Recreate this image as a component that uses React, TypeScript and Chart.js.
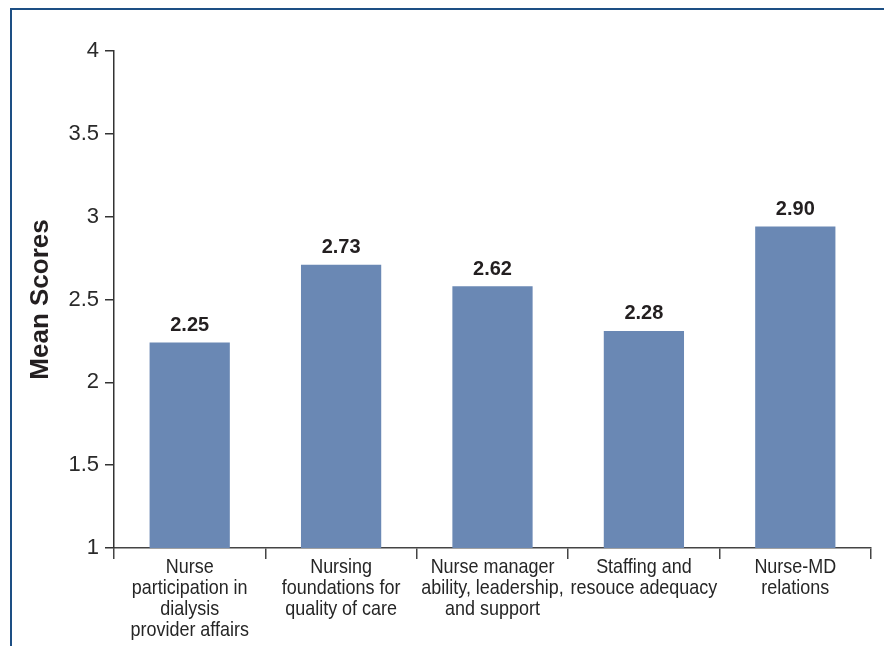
import React, { useEffect, useRef } from "react";
import { Chart, registerables } from "chart.js";

Chart.register(...registerables);

const categories: string[][] = [
  ["Nurse", "participation in", "dialysis", "provider affairs"],
  ["Nursing", "foundations for", "quality of care"],
  ["Nurse manager", "ability, leadership,", "and support"],
  ["Staffing and", "resouce adequacy"],
  ["Nurse-MD", "relations"],
];
const meanScores: number[] = [2.24, 2.71, 2.58, 2.31, 2.94];
const scoreLabels: string[] = ["2.25", "2.73", "2.62", "2.28", "2.90"];
const yTicks: number[] = [1, 1.5, 2, 2.5, 3, 3.5, 4];

const FONT = "'Liberation Sans', Arial, sans-serif";

const valueLabelPlugin = {
  id: "valueLabels",
  afterDatasetsDraw(chart: any) {
    const ctx = chart.ctx;
    const meta = chart.getDatasetMeta(0);
    ctx.save();
    ctx.font = `bold 20px ${FONT}`;
    ctx.fillStyle = "#231f20";
    ctx.textAlign = "center";
    ctx.textBaseline = "middle";
    meta.data.forEach((bar: any, i: number) => {
      ctx.fillText(scoreLabels[i], bar.x, bar.y - 17);
    });
    ctx.restore();
  },
};

// Narrow (condensed) category labels drawn at the x scale's tick positions
const narrowLabelPlugin = {
  id: "narrowLabels",
  afterDraw(chart: any) {
    const ctx = chart.ctx;
    const xs = chart.scales.x;
    const labels = chart.data.labels as string[][];
    ctx.save();
    ctx.font = `21px ${FONT}`;
    ctx.fillStyle = "#262626";
    ctx.textAlign = "center";
    ctx.textBaseline = "middle";
    labels.forEach((lines, i) => {
      const x = xs.getPixelForTick(i);
      lines.forEach((line, j) => {
        const y = xs.top + 19 + j * 21;
        ctx.save();
        ctx.translate(x, y);
        ctx.scale(0.855, 1);
        ctx.fillText(line, 0, 0);
        ctx.restore();
      });
    });
    ctx.restore();
  },
};

export default function App() {
  const ref = useRef<HTMLCanvasElement>(null);
  useEffect(() => {
    if (!ref.current) return;
    const chart = new Chart(ref.current, {
      type: "bar",
      data: {
        labels: categories,
        datasets: [
          {
            data: meanScores,
            backgroundColor: "#6a88b4",
            barPercentage: 0.53,
            categoryPercentage: 1,
          },
        ],
      },
      plugins: [valueLabelPlugin, narrowLabelPlugin],
      options: {
        responsive: false,
        animation: false,
        layout: { padding: { top: 43, right: 13, left: 0, bottom: 0 } },
        plugins: { legend: { display: false }, tooltip: { enabled: false } },
        scales: {
          x: {
            afterFit(scale: any) {
              scale.height = 98;
            },
            grid: {
              offset: true,
              drawOnChartArea: false,
              tickLength: 11,
              color: "#444",
              lineWidth: 1.5,
            },
            border: { color: "#444", width: 1.5 },
            ticks: {
              display: false,
              maxRotation: 0,
              autoSkip: false,
            },
          },
          y: {
            min: 1,
            max: 4,
            afterFit(scale: any) {
              scale.width = 106;
            },
            afterBuildTicks(scale: any) {
              scale.ticks = yTicks.map((v) => ({ value: v }));
            },
            grid: {
              drawOnChartArea: false,
              tickLength: 9,
              color: "#333",
              lineWidth: 1.5,
            },
            border: { color: "#333", width: 1.5 },
            ticks: {
              padding: 6,
              color: "#2a2a2a",
              font: { family: FONT, size: 22 },
              callback: (v: any) => String(v),
            },
            title: {
              display: true,
              text: "Mean Scores",
              color: "#231f20",
              padding: { top: 17, bottom: 0 },
              font: { family: FONT, size: 26, weight: "bold", lineHeight: 1.2 },
            },
          },
        },
      },
    });
    return () => chart.destroy();
  }, []);
  return (
    <div style={{ position: "relative", width: 876, height: 638 }}>
      <canvas ref={ref} width={876} height={638} style={{ display: "block" }} />
      <div
        style={{
          position: "absolute",
          left: 2,
          top: 0,
          width: 882,
          height: 646,
          borderTop: "2px solid #1d4f84",
          borderLeft: "2px solid #1d4f84",
          boxSizing: "border-box",
          pointerEvents: "none",
        }}
      />
    </div>
  );
}
